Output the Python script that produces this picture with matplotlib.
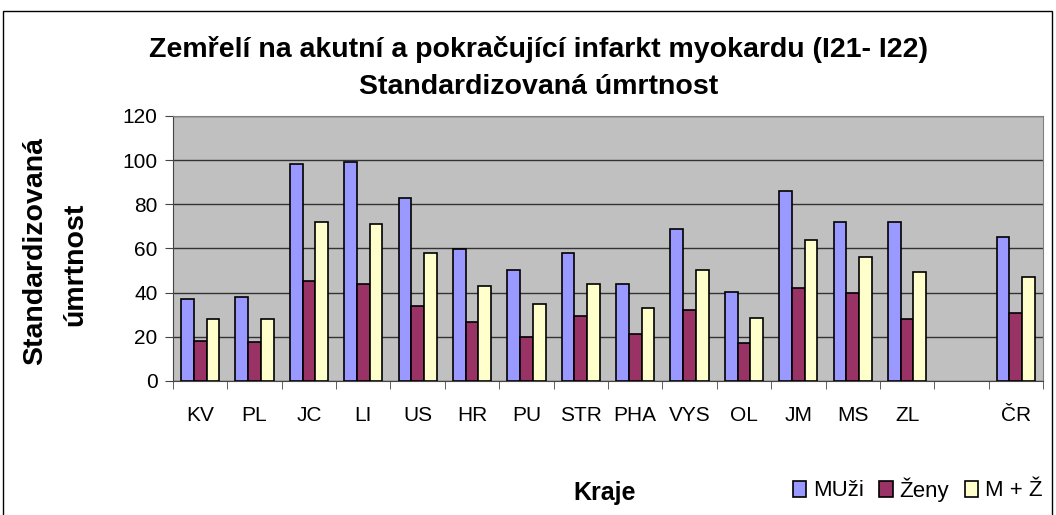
import numpy as np
import matplotlib.pyplot as plt
from matplotlib.patches import Rectangle

plt.rcParams['font.family'] = ['Liberation Sans', 'DejaVu Sans']

kraje = ['KV', 'PL', 'JC', 'LI', 'US', 'HR', 'PU', 'STR', 'PHA', 'VYS',
         'OL', 'JM', 'MS', 'ZL', '', 'ČR']
muzi = [37.0, 38.0, 98.3, 99.1, 82.7, 59.6, 50.3, 57.8, 43.8, 68.7,
        40.3, 86.0, 72.1, 72.1, np.nan, 65.3]
zeny = [18.3, 17.5, 45.5, 43.8, 33.9, 26.5, 19.7, 29.6, 21.4, 32.1,
        17.2, 42.2, 39.8, 28.2, np.nan, 30.7]
oba = [28.0, 28.0, 72.0, 71.1, 57.8, 42.9, 34.8, 43.8, 33.0, 50.3,
       28.7, 63.7, 56.3, 49.5, np.nan, 47.3]
serie = ['MUži', 'Ženy', 'M + Ž']
barvy = ['#9999FF', '#993366', '#FFFFCC']

fig = plt.figure(figsize=(10.56, 5.15), dpi=100)
ax = fig.add_axes([0.1638, 0.2602, 0.8239, 0.5146])

# ramecek kolem celeho grafu
fig.patches.append(Rectangle((3 / 1056, -0.05), 1049 / 1056, 1.05 - 11 / 515,
                             transform=fig.transFigure, fill=False,
                             edgecolor='black', linewidth=1))

x = np.arange(len(kraje))
w = 0.235
for i, (vals, lab, c) in enumerate(zip([muzi, zeny, oba], serie, barvy)):
    ax.bar(x + (i - 1) * w, vals, w, color=c, edgecolor='black',
           linewidth=1.2, label=lab, zorder=3)

ax.set_facecolor('#C0C0C0')
ax.set_xlim(-0.5, len(kraje) - 0.5)
ax.set_ylim(0, 120)
ax.set_yticks(range(0, 121, 20))
ax.yaxis.grid(True, color='#333333', linewidth=1, zorder=0)
ax.set_xticks(x)
ax.set_xticklabels(kraje, fontsize=15)
ax.set_xticks(np.arange(-0.5, len(kraje)), minor=True)
ax.tick_params(axis='x', which='major', length=0, pad=18)
ax.tick_params(axis='x', which='minor', length=6, color='#444444')
ax.tick_params(axis='y', labelsize=15, length=6, pad=5, color='#444444')
for s in ['top', 'right']:
    ax.spines[s].set_color('#808080')
for s in ['left', 'bottom']:
    ax.spines[s].set_color('#444444')

fig.text(35 / 1056, 0.513, 'Standardizovaná', rotation=90, ha='center', va='center',
         fontsize=20.5, fontweight='bold')
fig.text(75 / 1056, 0.487, 'úmrtnost', rotation=90, ha='center', va='center',
         fontsize=20.5, fontweight='bold')
fig.text(0.573, 0.042, 'Kraje', ha='center', va='center', fontsize=18,
         fontweight='bold')
fig.text(0.510, 0.903, 'Zemřelí na akutní a pokračující infarkt myokardu (I21- I22)',
         ha='center', va='center', fontsize=20.5, fontweight='bold')
fig.text(0.510, 0.831, 'Standardizovaná úmrtnost', ha='center', va='center',
         fontsize=20.5, fontweight='bold')

ax.legend(loc='center', bbox_to_anchor=(0.869, 0.05), bbox_transform=fig.transFigure,
          ncol=3, frameon=False, fontsize=16, handlelength=0.6, handleheight=0.7,
          handletextpad=0.3, columnspacing=0.7, borderpad=0)

fig.savefig('out.png', dpi=100)
